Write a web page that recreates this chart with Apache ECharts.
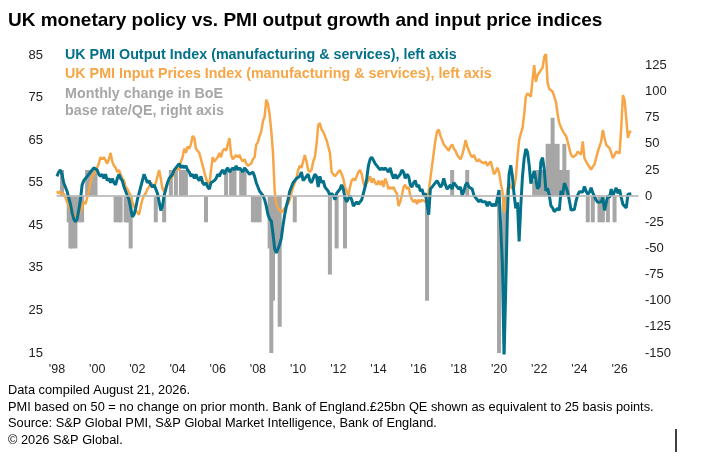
<!DOCTYPE html>
<html>
<head>
<meta charset="utf-8">
<script src="https://cdn.jsdelivr.net/npm/echarts@6/dist/echarts.min.js"></script>
<style>
html, body { margin: 0; padding: 0; background: #fff; }
#chart { width: 711px; height: 461px; }
</style>
</head>
<body>
<div id="chart"></div>
<script>
// monthly categories Jan 1998 - Dec 2026
var months = [];
for (var y = 1998; y <= 2026; y++) {
    for (var m = 1; m <= 12; m++) {
        months.push(y + '-' + (m < 10 ? '0' + m : m));
    }
}

// UK PMI Output Index (manufacturing & services), one row per year
var outputIndex = [
    56.5, 57.5, 58, 57, 55, 54, 53, 51.5, 50, 48, 46.5, 45.8,
    46.5, 48.5, 51, 54.5, 55.5, 56, 56.5, 57, 57.5, 58, 58.5, 58.5,
    58, 57, 56.5, 57, 56, 57, 55.5, 56, 55, 56, 55, 54.5,
    56, 57, 56, 55.5, 54, 53, 52, 51, 49, 47, 47.5, 49,
    51, 52.5, 54, 55.5, 57, 56, 55, 55.5, 54.5, 54, 54.5, 53.5,
    52.5, 50.5, 48.5, 49.5, 52, 53.5, 55, 56, 56, 57, 58, 58.5,
    59, 59.5, 58.5, 59, 58.5, 59, 58, 57.5, 56.5, 57, 56, 57,
    56, 55.5, 56.5, 55, 54.5, 55, 54, 53.5, 55, 55, 55.5, 56,
    57, 56.5, 57.5, 58, 57, 58, 58.5, 57.5, 58, 58.5, 58, 59,
    58, 58.5, 58, 57.5, 58.5, 58, 57.5, 57, 57, 57.5, 56.5, 55,
    54, 53, 52.5, 52, 51, 49.5, 47.5, 46.5, 46, 43, 39.5, 38.5,
    38.5, 40.5, 42, 45, 47.5, 49.5, 51, 53, 54, 55, 55.5, 56,
    56, 56.5, 57.5, 55.5, 56, 56.5, 57, 55.5, 55, 56, 57, 56.5,
    54, 56.5, 55, 55.5, 54, 53.5, 53, 52, 52.5, 52, 51, 52.5,
    53, 53.5, 54.5, 53.5, 51.5, 50.5, 50.5, 52, 51, 49.5, 50, 50.5,
    50, 50.5, 51, 52.5, 54, 56, 59, 60.5, 61, 61, 59.5, 59,
    58.5, 58, 58.5, 58, 58.5, 58.5, 57.5, 58.5, 57, 56, 57, 56,
    56.5, 57, 58, 57.5, 56, 57, 56.5, 54.5, 54, 55, 55.5, 54,
    54.5, 53, 53.5, 52, 52.5, 52.5, 47.5, 53.5, 53.5, 54.5, 54.5, 55.5,
    55.5, 54, 54.5, 56, 54.5, 53.5, 54, 54.5, 53.5, 55, 54.5, 54.5,
    53.5, 54, 52, 53, 54.5, 55, 54, 54, 53.5, 52, 51.5, 51,
    50.5, 51, 50.5, 50.5, 50.5, 49.5, 50.5, 50, 49.5, 50, 49.5, 49.3,
    53.3, 53, 36, 13.8, 30, 47.7, 57, 59.1, 56.5, 52.1, 49, 50.4,
    41.2, 49.6, 56.4, 60.7, 62.9, 62.2, 59.2, 54.8, 54.9, 57.8, 57.6, 53.6,
    54.2, 59.9, 60.9, 58.2, 53.1, 53.7, 52.1, 49.6, 49.1, 48.2, 48.2, 49,
    48.5, 53.1, 52.2, 54.9, 54, 52.8, 50.8, 48.6, 48.5, 48.7, 50.7, 52.1,
    52.9, 53, 52.8, 54.1, 53, 52.3, 52.8, 53.8, 52.6, 51.8, 50.9, 50.4,
    50.6, 50.5, 51.5, 48.5, 50.3, 52, 51.5, 53.5, 52, 52.2, 53.8, 52.5,
    53.4, 51.5, 49.9, 49.5, 49.1, 52.3, 52, 52.4
];

// UK PMI Input Prices Index (manufacturing & services)
var inputPrices = [
    53, 52.5, 53, 52, 52.5, 51.5, 50.5, 49.5, 48.5, 48, 47.5, 47,
    47, 47.5, 48.5, 49, 50.5, 50, 51.5, 53, 55, 56.5, 57, 57.5,
    58.5, 59.5, 61, 60.5, 61, 61, 59.5, 60.5, 62, 60, 59, 58.5,
    57.5, 58, 57, 56, 55.5, 54, 53.5, 53.5, 52, 50.5, 49.5, 48.5,
    48, 47.5, 49.5, 51, 52, 52.5, 53.5, 54, 55, 55, 54, 55,
    55, 58, 56, 53.5, 53, 54, 55, 55, 56, 56.5, 57.5, 58,
    58.5, 58, 60, 61, 63, 62, 63.5, 63, 64, 66, 65.5, 63,
    63, 62, 60.5, 59, 57.5, 56, 55, 54.5, 58, 61, 60, 60.5,
    61, 62, 61, 62.5, 63, 62.5, 64, 65.5, 61.5, 60.5, 61, 61.5,
    61, 61.5, 60.5, 60, 60.5, 59.5, 59, 59, 59.5, 60.5, 61, 64,
    64.5, 66, 67, 69.5, 70.5, 74.5, 73.5, 71, 67, 62, 53, 50,
    49, 48.5, 48, 48, 49, 49.5, 50, 51, 52.5, 54, 55, 56,
    58, 59, 58.5, 60, 61.5, 60, 58, 57.5, 58, 60, 61, 64,
    68.5, 69, 67.5, 67, 66, 65, 63.5, 62, 57.5, 57, 56.5, 57,
    57.5, 58, 57, 56, 54, 53, 52, 54, 55.5, 56, 55.5, 56.5,
    57.5, 58, 57, 55, 54, 55, 55.5, 56.5, 55, 56, 55, 54.5,
    55.5, 54.5, 55.5, 54, 56, 55, 53.5, 54, 53.5, 54, 53, 52.5,
    49.5, 50.5, 52, 54, 54.5, 53.5, 54, 52, 51, 50.5, 51, 50,
    51, 50.5, 51, 51, 50.5, 51, 53, 56, 59, 62, 65, 67,
    67.5, 66, 65, 64, 63.5, 63, 62.5, 63.5, 64, 63, 62.5, 61.5,
    61, 60.5, 61.5, 63, 65, 63.5, 62.5, 61.5, 61, 61.5, 60.5, 60,
    60.5, 60, 60, 59.5, 60, 59, 59.5, 60, 58.5, 57, 57.5, 58.5,
    57.5, 55, 53, 48, 50, 53.5, 55, 54, 53.5, 54, 56, 61,
    65, 66.5, 67.8, 71, 75.2, 76, 76.4, 75.2, 79, 82.6, 78.7, 80.3,
    80.8, 81.5, 82, 84.5, 85.5, 78.5, 77, 76.8, 76.4, 76.4, 74, 71,
    69, 68, 67.2, 66.5, 66, 64.7, 63, 61.6, 61, 60.8, 61.5, 62.3,
    62, 61.6, 64.7, 60.8, 60, 59.3, 58.7, 58.1, 58.8, 59.3, 60.8, 62.3,
    63.5, 64.7, 67.4, 65.5, 63.9, 63.5, 63.1, 62, 60.8, 61.5, 62.3, 62,
    61.9, 68, 75.6, 74.4, 70, 65.5, 67, 67
];

// Monthly change in BoE base rate/QE (basis points, £25bn QE = 25bp)
var boeChange = [
    0, 0, 0, 25, 0, 0, 0, -25, -50, -50, -25, -50,
    0, -25, 0, -25, 0, 0, 25, 0, 25, 0, 25, 25,
    0, 0, 0, 0, 0, 0, 0, 0, 0, 0, 0, -25,
    0, -25, -25, 0, 0, -25, -25, -25, -50, 0, 0, 0,
    0, 0, 0, 0, 0, 0, 0, 0, 0, 0, 0, -25,
    0, 0, 0, 0, -25, 0, 0, 0, 25, 0, 0, 25,
    0, 0, 25, 25, 0, 25, 0, 0, 0, 0, 0, 0,
    0, 0, 0, 0, 0, -25, 0, 0, 0, 0, 0, 0,
    0, 0, 0, 0, 0, 25, 0, 0, 25, 0, 25, 0,
    0, 0, 25, 0, 25, 0, 0, 0, 0, -25, 0, -25,
    0, -25, 0, 0, 0, 0, 0, -50, -150, -100, -50, -50,
    0, -125, 0, 0, 0, 0, 0, 0, 0, 0, -25, 0,
    0, 0, 0, 0, 0, 0, 0, 0, 0, 0, 0, 0,
    0, 0, 0, 0, 0, 0, 0, -75, 0, 0, 0, -50,
    0, 0, 0, 0, -50, 0, 0, 0, 0, 0, 0, 0,
    0, 0, 0, 0, 0, 0, 0, 0, 0, 0, 0, 0,
    0, 0, 0, 0, 0, 0, 0, 0, 0, 0, 0, 0,
    0, 0, 0, 0, 0, 0, 0, 0, 0, 0, 0, 0,
    0, 0, 0, 0, 0, -100, 0, 0, 0, 0, 0, 0,
    0, 0, 0, 0, 0, 0, 0, 0, 25, 0, 0, 0,
    0, 0, 0, 0, 0, 25, 0, 0, 0, 0, 0, 0,
    0, 0, 0, 0, 0, 0, 0, 0, 0, 0, 0, 0,
    -265, 0, 0, -100, 0, 0, 0, 0, 0, 0, 0, 0,
    0, 0, 0, 0, 0, 0, 0, 0, 0, 15, 0, 25,
    25, 0, 25, 25, 0, 50, 50, 0, 75, 50, 0, 50,
    25, 0, 25, 50, 0, 25, 0, 0, 0, 0, 0, 0,
    0, 0, 0, 0, 0, -25, 0, 0, -25, 0, 0, 0,
    -25, 0, -25, 0, 0, -25, 0, 0, 0, -25, 0, 0,
    0, 0, 0, 0, 0, 0, 0, 0
];

var leftTicks = [15, 25, 35, 45, 55, 65, 75, 85];
var rightTicks = [-150, -125, -100, -75, -50, -25, 0, 25, 50, 75, 100, 125];

var teal = '#04718b';
var orange = '#f6a646';
var grey = '#a6a6a6';
var font = '"Liberation Sans", Arial, sans-serif';

var myChart = echarts.init(document.getElementById('chart'));

var option = {
    animation: false,
    backgroundColor: '#fff',
    grid: { left: 57, right: 73, top: 55, bottom: 108 },
    xAxis: {
        type: 'category',
        data: months,
        boundaryGap: false,
        axisLine: { lineStyle: { color: '#bfbfbf', width: 1.5 } },
        axisTick: { show: false },
        axisLabel: {
            interval: 23,
            margin: 10,
            color: '#222',
            fontSize: 12.5,
            fontFamily: font,
            formatter: function (v) { return "'" + v.slice(2, 4); }
        },
        splitLine: { show: false }
    },
    yAxis: [
        {
            type: 'value',
            min: 15,
            max: 85,
            axisLine: { show: false },
            axisTick: { show: false },
            splitLine: { show: false },
            axisLabel: { customValues: leftTicks, color: '#222', fontSize: 13, fontFamily: font, margin: 14 }
        },
        {
            type: 'value',
            position: 'right',
            min: -150,
            max: 135,
            axisLine: { show: false },
            axisTick: { show: false },
            splitLine: { show: false },
            axisLabel: { customValues: rightTicks, color: '#222', fontSize: 13, fontFamily: font, margin: 7 }
        }
    ],
    series: [
        {
            name: 'BoE',
            type: 'bar',
            yAxisIndex: 1,
            data: boeChange,
            barWidth: 4,
            itemStyle: { color: grey },
            z: 1,
            markLine: {
                silent: true,
                symbol: ['none', 'none'],
                label: { show: false },
                lineStyle: { color: '#bfbfbf', type: 'solid', width: 1.5 },
                data: [{ yAxis: 0 }]
            }
        },
        {
            name: 'Input prices',
            type: 'line',
            data: inputPrices,
            showSymbol: false,
            lineStyle: { color: orange, width: 2.5 },
            itemStyle: { color: orange },
            z: 2
        },
        {
            name: 'Output',
            type: 'line',
            data: outputIndex,
            showSymbol: false,
            lineStyle: { color: teal, width: 3 },
            itemStyle: { color: teal },
            z: 3
        }
    ],
    graphic: [
        { type: 'text', left: 8, top: 11, style: { text: 'UK monetary policy vs. PMI output growth and input price indices', fill: '#000', font: 'bold 19px ' + font } },
        { type: 'text', left: 65, top: 48, style: { text: 'UK PMI Output Index (manufacturing & services), left axis', fill: teal, font: 'bold 14.3px ' + font } },
        { type: 'text', left: 65, top: 67, style: { text: 'UK PMI Input Prices Index (manufacturing & services), left axis', fill: orange, font: 'bold 14.3px ' + font } },
        { type: 'text', left: 65, top: 87, style: { text: 'Monthly change in BoE', fill: grey, font: 'bold 14.3px ' + font } },
        { type: 'text', left: 65, top: 104, style: { text: 'base rate/QE, right axis', fill: grey, font: 'bold 14.3px ' + font } },
        { type: 'text', left: 8, top: 384, style: { text: 'Data compiled August 21, 2026.', fill: '#000', font: '12.8px ' + font } },
        { type: 'text', left: 8, top: 401, style: { text: 'PMI based on 50 = no change on prior month. Bank of England.£25bn QE shown as equivalent to 25 basis points.', fill: '#000', font: '12.8px ' + font } },
        { type: 'text', left: 8, top: 417, style: { text: 'Source: S&P Global PMI, S&P Global Market Intelligence, Bank of England.', fill: '#000', font: '12.8px ' + font } },
        { type: 'text', left: 8, top: 434, style: { text: '\u00a9 2026 S&P Global.', fill: '#000', font: '12.8px ' + font } },
        { type: 'line', shape: { x1: 676, y1: 429, x2: 676, y2: 452 }, style: { stroke: '#000', lineWidth: 1.5 } }
    ]
};

myChart.setOption(option);
</script>
</body>
</html>
